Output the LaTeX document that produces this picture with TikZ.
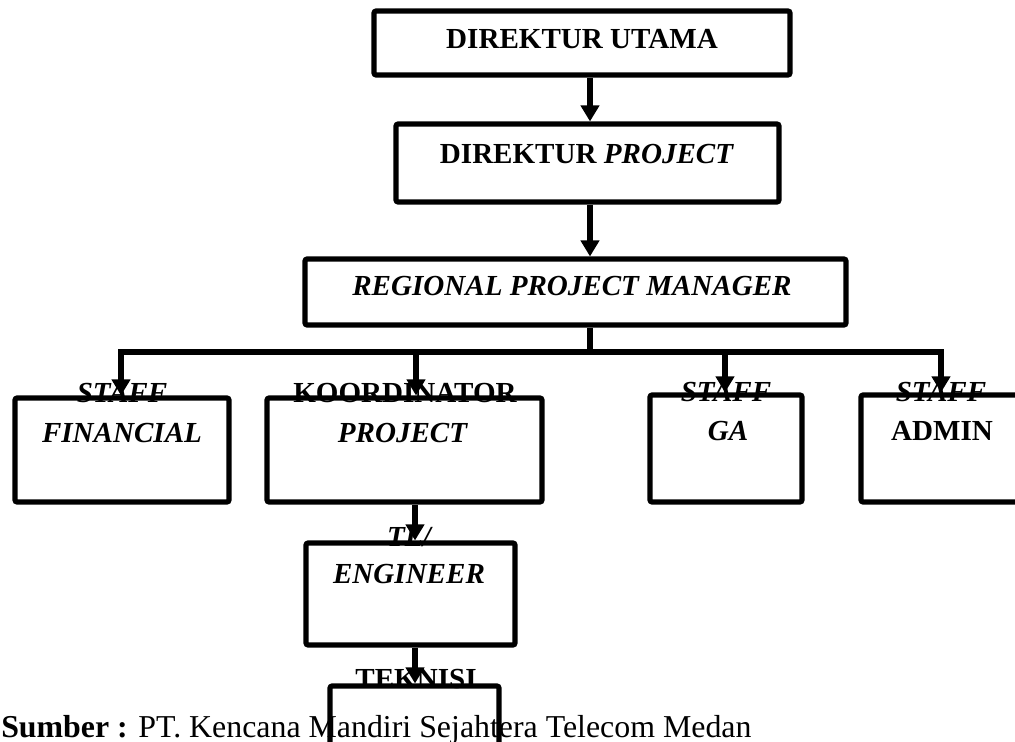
\documentclass[tikz,border=0pt]{standalone}
\usepackage{fontspec}
\setmainfont{Liberation Serif}
\usetikzlibrary{arrows.meta,fit}
\begin{document}
\begin{tikzpicture}[x=0.75pt,y=-0.75pt,
  box/.style={draw, line width=3.8pt, rounded corners=1.5pt, inner sep=0pt},
  arr/.style={line width=4.8pt, -{Triangle[width=13.5pt,length=12pt]}},
  conn/.style={line width=4.8pt},
  lbl/.style={inner sep=0pt, anchor=base, font=\fontsize{21.8}{26}\selectfont\bfseries},
  src/.style={inner sep=0pt, anchor=base west, font=\fontsize{23.9}{28}\selectfont}]
\useasboundingbox (0,0) rectangle (1015,742);
% boxes
\node[box, fit={(374,11) (790,75)}] (du) {};
\node[box, fit={(396,124) (779,202)}] (dp) {};
\node[box, fit={(305,259) (846,325)}] (rpm) {};
\node[box, fit={(15,398) (229,502)}] (fin) {};
\node[box, fit={(267,398) (542,502)}] (koord) {};
\node[box, fit={(650,395) (802,502)}] (ga) {};
\node[box, fit={(861,395) (1040,502)}] (adm) {};
\node[box, fit={(306,543) (515,645)}] (tl) {};
\node[box, fit={(330,686) (499,790)}] (tek) {};
% coordinates
\coordinate (cx) at (590,0);
\coordinate (kx) at (415,0);
\coordinate (bus) at (590,352);
\coordinate (busL) at (118,352);
\coordinate (busR) at (944,352);
\coordinate (d1) at (121,352);
\coordinate (d2) at (416,352);
\coordinate (d3) at (725,352);
\coordinate (d4) at (941,352);
% connectors
\draw[arr] (du.south -| cx) -- (dp.north -| cx);
\draw[arr] (dp.south -| cx) -- (rpm.north -| cx);
\draw[conn] (rpm.south -| cx) -- (bus);
\draw[conn] (busL) -- (busR);
\draw[arr] (d1) -- (d1 |- fin.north);
\draw[arr] (d2) -- (d2 |- koord.north);
\draw[arr] (d3) -- (d3 |- ga.north);
\draw[arr] (d4) -- (d4 |- adm.north);
\draw[arr] (koord.south -| kx) -- (tl.north -| kx);
\draw[arr] (tl.south -| kx) -- (tek.north -| kx);
% labels
\node[lbl] (tdu) at (582,49) {DIREKTUR UTAMA};
\node[lbl] (tdp) at (587,163) {DIREKTUR \textit{PROJECT}};
\node[lbl] (trpm) at (572,295) {\textit{REGIONAL PROJECT MANAGER}};
\node[lbl] (tfin1) at (122,402) {\textit{STAFF}};
\node[lbl] (tfin2) at (122,442) {\textit{FINANCIAL}};
\node[lbl] (tko1) at (405,402) {KOORDINATOR};
\node[lbl] (tko2) at (403,442) {\textit{PROJECT}};
\node[lbl] (tga1) at (726,401) {\textit{STAFF}};
\node[lbl] (tga2) at (728,440) {\textit{GA}};
\node[lbl] (tad1) at (941,401) {\textit{STAFF}};
\node[lbl] (tad2) at (942,440) {ADMIN};
\node[lbl] (ttl1) at (410,546) {\textit{TL/}};
\node[lbl] (ttl2) at (409,583) {\textit{ENGINEER}};
\node[lbl] (ttek) at (416,688) {TEKNISI};
\node[src] (sumber) at (1,737) {\textbf{Sumber :} PT. Kencana Mandiri Sejahtera Telecom Medan};
\end{tikzpicture}
\end{document}
